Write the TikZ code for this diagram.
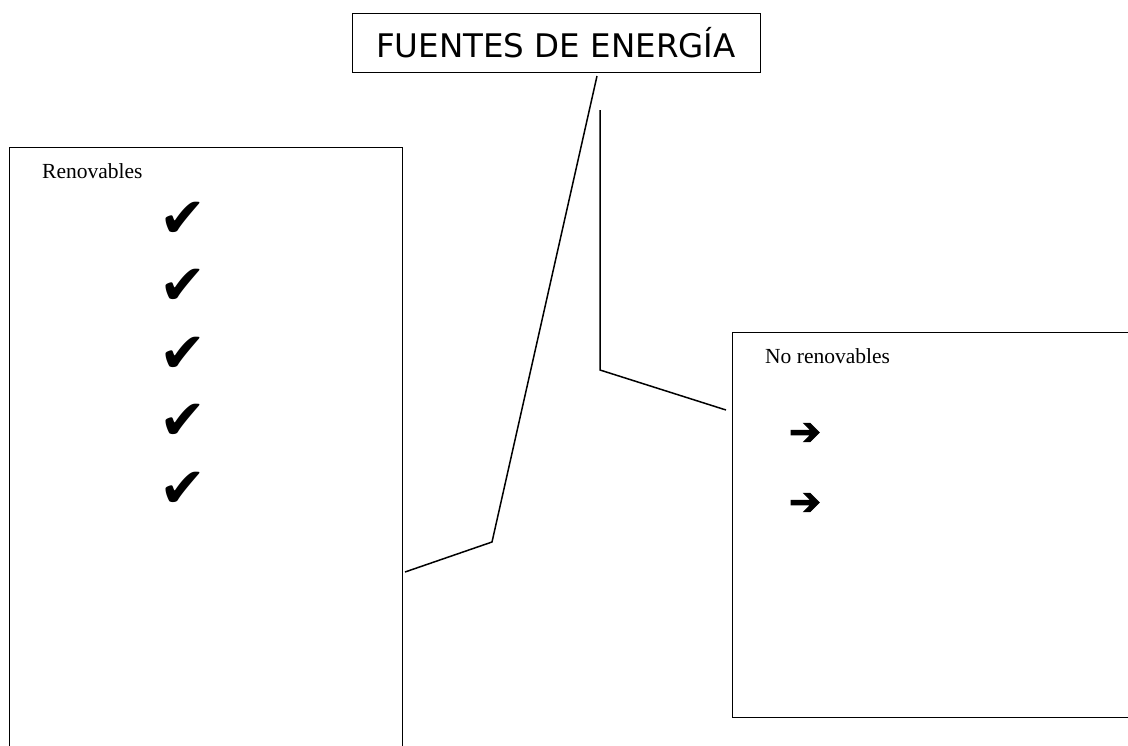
\documentclass[tikz,border=0pt]{standalone}
\usepackage{fontspec}
\setmainfont{Liberation Serif}
\newfontfamily\titlefont{DejaVu Sans}
\newfontfamily\symfont{DejaVu Sans}
\newfontfamily\arrowfont[FakeBold=3]{DejaVu Sans}
\tikzset{
    caja/.style={draw,line width=1pt,rectangle,inner sep=0pt},
    rotulo/.style={anchor=base west,inner sep=0pt,font=\fontsize{21.5}{26}\selectfont},
    enlace/.style={line width=1.5pt},
    marca/.style={inner sep=0pt,font=\symfont\fontsize{56}{60}\selectfont},
    flecha/.style={inner sep=0pt,font=\arrowfont\fontsize{38}{44}\selectfont}
}
\begin{document}
\begin{tikzpicture}[x=1pt,y=-1pt]
        \useasboundingbox(0,0)rectangle(1128,745);
        % titulo
        \node[caja,minimum width=408pt,minimum height=59pt,font=\titlefont\fontsize{32.5}{38}\selectfont]
            (titulo) at (556,42.5) {FUENTES DE ENERG\'IA};
        % cajas
        \node[caja,minimum width=393pt,minimum height=620pt] (renov) at (205.5,457) {};
        \node[caja,minimum width=410pt,minimum height=385pt] (norenov) at (937,524.5) {};
        \node[rotulo] (renovtxt) at (42,178) {Renovables};
        \node[rotulo] (norenovtxt) at (765,363) {No renovables};
        \foreach \y [count=\i] in {220,287,355,422,490}
            {
                \node[marca] (check\i) at (183,\y) {✔};
            }
        \foreach \y [count=\i] in {434,504}
            {
                \node[flecha] (punto\i) at (805,\y) {➔};
            }
        % enlaces
        \coordinate (a1) at (597,76);
        \coordinate (a2) at (492,542);
        \coordinate (a3) at (405,572);
        \coordinate (b1) at (600,110);
        \coordinate (b2) at (600,370);
        \coordinate (b3) at (726,410);
        \draw[enlace] (a1) -- (a2) -- (a3);
        \draw[enlace] (b1) -- (b2) -- (b3);
    \end{tikzpicture}
\end{document}
